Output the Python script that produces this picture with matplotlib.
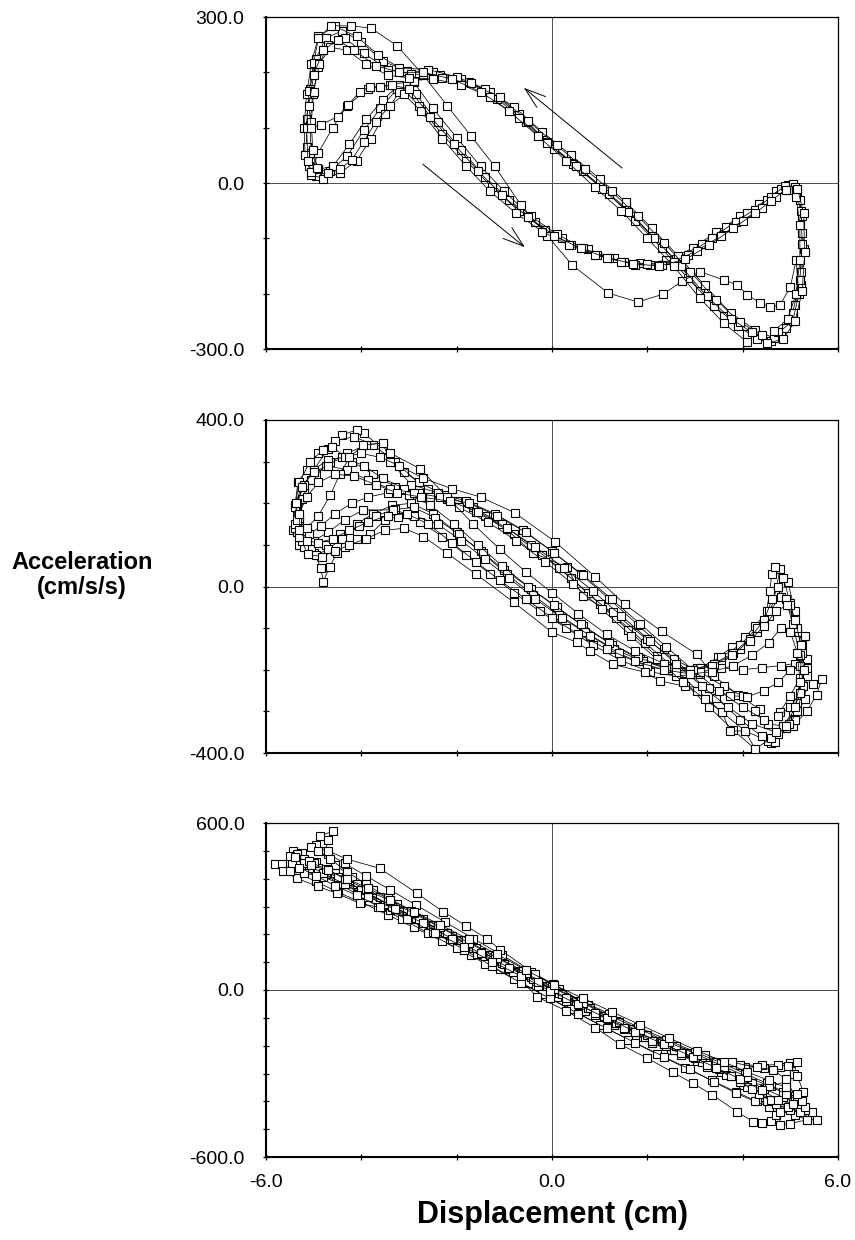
import matplotlib.pyplot as plt
import numpy as np

plt.rcParams["font.family"] = ["Liberation Sans", "DejaVu Sans"]
plt.rcParams["axes.unicode_minus"] = False

# ---------------- panel 1 (+-300) : one list of (disp, acc) per cycle ----------------
P1_C1 = [(4.50, -288), (4.10, -272), (3.60, -240), (3.10, -195), (2.60, -140), (2.10, -95), (1.55, -45),
         (1.00, -5), (0.45, 35), (-0.10, 75), (-0.70, 125), (-1.30, 165), (-1.90, 188), (-2.50, 200),
         (-3.05, 203), (-3.55, 220), (-4.00, 255), (-4.40, 275), (-4.75, 262), (-4.95, 225), (-5.08, 170),
         (-5.15, 115), (-5.15, 65), (-5.10, 30), (-4.95, 12), (-4.65, 22), (-4.30, 48), (-3.95, 95),
         (-3.60, 135), (-3.25, 170), (-2.85, 160), (-2.40, 110), (-1.90, 60), (-1.40, 10), (-0.90, -30),
         (-0.35, -70), (0.20, -100), (0.75, -120), (1.30, -135), (1.85, -145), (2.40, -140), (2.95, -118),
         (3.45, -88), (3.95, -60), (4.35, -38), (4.70, -15), (4.95, -4), (5.15, -15), (5.25, -60),
         (5.28, -120), (5.22, -185), (5.05, -240), (4.80, -275)]
P1_C2 = [(4.30, -282), (3.90, -258), (3.40, -222), (2.85, -172), (2.30, -118), (1.75, -68), (1.20, -20),
         (0.65, 22), (0.05, 62), (-0.55, 110), (-1.15, 152), (-1.75, 182), (-2.35, 195), (-2.95, 197),
         (-3.45, 205), (-3.95, 235), (-4.35, 262), (-4.70, 250), (-4.90, 210), (-5.02, 160), (-5.08, 105),
         (-5.05, 55), (-4.90, 25), (-4.60, 30), (-4.25, 70), (-3.90, 115), (-3.55, 150), (-3.20, 178),
         (-2.80, 140), (-2.30, 88), (-1.80, 40), (-1.25, -8), (-0.70, -50), (-0.15, -85), (0.40, -112),
         (0.95, -130), (1.50, -142), (2.05, -148), (2.60, -138), (3.15, -110), (3.65, -80), (4.10, -55),
         (4.50, -30), (4.80, -10), (5.05, -2), (5.20, -30), (5.25, -90), (5.22, -160), (5.10, -220),
         (4.90, -262), (4.60, -285)]
P1_C3 = [(4.65, -280), (4.25, -265), (3.75, -235), (3.20, -185), (2.65, -132), (2.10, -82), (1.55, -35),
         (1.00, 8), (0.40, 50), (-0.20, 92), (-0.80, 138), (-1.40, 170), (-2.00, 192), (-2.60, 205),
         (-3.20, 208), (-3.65, 232), (-4.10, 265), (-4.55, 283), (-4.90, 265), (-5.05, 215), (-5.15, 160),
         (-5.20, 100), (-5.18, 50), (-5.05, 15), (-4.80, 8), (-4.45, 18), (-4.10, 40), (-3.80, 80),
         (-3.50, 125), (-3.20, 165), (-2.90, 182), (-2.50, 135), (-2.00, 82), (-1.50, 30), (-1.00, -15),
         (-0.45, -60), (0.10, -92), (0.65, -118), (1.20, -135), (1.75, -148), (2.30, -148), (2.85, -130),
         (3.35, -100), (3.85, -70), (4.25, -48), (4.60, -25), (4.88, -5), (5.10, -8), (5.22, -50),
         (5.25, -110), (5.20, -175), (5.05, -235)]
P1_C4 = [(4.40, -275), (3.95, -252), (3.45, -212), (2.90, -160), (2.35, -108), (1.80, -60), (1.25, -15),
         (0.70, 25), (0.10, 68), (-0.50, 112), (-1.10, 155), (-1.70, 180), (-2.30, 190), (-2.90, 185),
         (-3.40, 177), (-3.85, 170), (-4.30, 140), (-4.60, 100), (-4.90, 55), (-5.05, 20), (-5.12, 40),
         (-5.15, 100), (-5.10, 166), (-5.00, 217), (-4.90, 262), (-4.64, 284), (-4.22, 284), (-3.80, 280),
         (-3.25, 248), (-2.70, 195), (-2.20, 140), (-1.70, 85), (-1.20, 30), (-0.65, -40), (-0.10, -95),
         (0.42, -148), (1.18, -199), (1.80, -215), (2.33, -201), (2.72, -178), (3.10, -160), (3.60, -175),
         (3.88, -184), (4.10, -202), (4.37, -217), (4.57, -224), (4.78, -221), (5.00, -188), (5.12, -140),
         (5.18, -200), (5.05, -250), (4.75, -270)]
P1_C5 = [(4.20, -270), (3.75, -245), (3.25, -205), (2.70, -150), (2.15, -100), (1.60, -52), (1.05, -10),
         (0.50, 30), (-0.10, 72), (-0.70, 118), (-1.30, 155), (-1.90, 178), (-2.50, 188), (-3.00, 190),
         (-3.45, 195), (-3.90, 215), (-4.30, 240), (-4.65, 245), (-4.88, 215), (-5.00, 165), (-5.05, 110),
         (-5.02, 60), (-4.92, 28), (-4.70, 18), (-4.45, 25), (-4.20, 42), (-3.95, 75), (-3.70, 110),
         (-3.40, 140), (-3.10, 160), (-2.75, 130), (-2.30, 80), (-1.80, 30), (-1.30, -15), (-0.75, -55),
         (-0.20, -88), (0.35, -112), (0.90, -130), (1.45, -142), (2.00, -146), (2.55, -142), (3.05, -122),
         (3.55, -95), (4.00, -68), (4.40, -45), (4.70, -25), (4.95, -12), (5.12, -25), (5.20, -75),
         (5.20, -140), (5.12, -200), (4.95, -245), (4.65, -268)]
P1_C6 = [(4.10, -288), (3.60, -253), (3.10, -208), (2.55, -150), (2.00, -100), (1.45, -50), (0.90, -8),
         (0.30, 40), (-0.30, 85), (-0.90, 130), (-1.50, 165), (-2.10, 188), (-2.70, 200), (-3.20, 200),
         (-3.70, 212), (-4.15, 240), (-4.50, 258), (-4.80, 240), (-5.00, 195), (-5.10, 140), (-5.05, 100),
         (-4.85, 105), (-4.50, 120), (-4.28, 141), (-4.03, 165), (-3.82, 174), (-3.60, 174), (-3.36, 177),
         (-3.00, 170), (-2.55, 120), (-2.05, 70), (-1.55, 22), (-1.05, -22), (-0.50, -62), (0.05, -95),
         (0.60, -118), (1.15, -135), (1.70, -146), (2.25, -150), (2.80, -138), (3.30, -112), (3.80, -82),
         (4.25, -55), (4.60, -32), (4.90, -12), (5.15, -10), (5.28, -55), (5.30, -125), (5.25, -195),
         (5.10, -250), (4.85, -282), (4.50, -290)]

# ---------------- panel 2 (+-400) ----------------
P2_C1 = [(4.26, -390), (3.80, -345), (3.30, -290), (2.75, -228), (2.20, -168), (1.60, -105), (1.00, -42),
         (0.40, 20), (-0.20, 75), (-0.80, 125), (-1.40, 170), (-2.00, 205), (-2.60, 235), (-3.10, 275),
         (-3.55, 330), (-3.95, 369), (-4.10, 376), (-4.41, 364), (-4.70, 330), (-5.00, 280), (-5.20, 220),
         (-5.30, 160), (-5.20, 110), (-5.00, 80), (-4.85, 45), (-4.80, 12), (-4.66, 48), (-4.51, 81),
         (-4.34, 96), (-4.09, 113), (-3.82, 125), (-3.50, 160), (-3.23, 168), (-2.77, 156), (-2.30, 120),
         (-1.80, 75), (-1.30, 30), (-0.80, -15), (-0.25, -60), (0.30, -100), (0.85, -140), (1.45, -178),
         (2.05, -205), (2.60, -215), (3.10, -210), (3.55, -185), (3.95, -150), (4.30, -110), (4.55, -70),
         (4.68, -20), (4.78, 41), (4.95, 10), (5.10, -60), (5.25, -140), (5.30, -210), (5.15, -280),
         (4.90, -340), (4.60, -375)]
P2_C2 = [(4.53, -371), (4.05, -347), (3.57, -302), (3.05, -250), (2.50, -190), (1.95, -135), (1.35, -75),
         (0.75, -15), (0.15, 45), (-0.45, 100), (-1.05, 150), (-1.65, 190), (-2.25, 220), (-2.80, 250),
         (-3.30, 300), (-3.75, 340), (-4.15, 360), (-4.55, 350), (-4.90, 320), (-5.15, 280), (-5.33, 251),
         (-5.39, 196), (-5.43, 136), (-5.30, 100), (-5.05, 90), (-4.75, 100), (-4.45, 125), (-4.10, 150),
         (-3.75, 175), (-3.35, 195), (-2.95, 200), (-2.50, 175), (-2.00, 130), (-1.50, 85), (-1.00, 40),
         (-0.45, -5), (0.10, -50), (0.65, -95), (1.25, -140), (1.85, -175), (2.45, -200), (3.00, -205),
         (3.48, -170), (3.78, -146), (4.05, -122), (4.26, -96), (4.50, -60), (4.57, -10), (4.61, 29),
         (4.68, 48), (4.85, 20), (5.00, -40), (5.15, -110), (5.31, -120), (5.35, -175), (5.27, -240),
         (5.05, -300), (4.85, -335), (4.68, -374)]
P2_C3 = [(4.40, -360), (3.95, -320), (3.45, -268), (2.90, -210), (2.35, -150), (1.80, -92), (1.20, -30),
         (0.60, 30), (0.00, 85), (-0.60, 135), (-1.20, 175), (-1.80, 205), (-2.40, 225), (-2.95, 245),
         (-3.40, 300), (-3.55, 345), (-3.90, 340), (-4.30, 320), (-4.65, 300), (-4.95, 270), (-5.20, 230),
         (-5.35, 180), (-5.35, 130), (-5.20, 95), (-4.95, 75), (-4.70, 90), (-4.40, 115), (-4.05, 145),
         (-3.70, 170), (-3.30, 185), (-2.90, 190), (-2.45, 165), (-1.95, 125), (-1.45, 80), (-0.95, 30),
         (-0.40, -20), (0.15, -68), (0.70, -110), (1.30, -150), (1.90, -180), (2.50, -195), (3.05, -195),
         (3.55, -195), (4.00, -200), (4.40, -195), (4.80, -190), (5.10, -185), (5.35, -195), (5.48, -235),
         (5.66, -223), (5.55, -260), (5.35, -300), (5.05, -335), (4.75, -355)]
P2_C4 = [(4.36, -295), (3.90, -260), (3.40, -215), (3.04, -163), (2.30, -108), (1.53, -43), (0.90, 24),
         (0.06, 108), (-0.78, 177), (-1.50, 215), (-2.10, 235), (-2.70, 260), (-3.20, 290), (-3.60, 310),
         (-4.00, 320), (-4.40, 310), (-4.75, 290), (-5.05, 255), (-5.25, 210), (-5.30, 165), (-5.20, 125),
         (-5.00, 110), (-4.70, 130), (-4.35, 160), (-3.96, 184), (-3.33, 184), (-2.90, 170), (-2.40, 150),
         (-1.90, 110), (-1.40, 65), (-0.90, 20), (-0.35, -30), (0.20, -75), (0.80, -118), (1.40, -160),
         (2.00, -192), (2.60, -205), (3.10, -195), (3.55, -170), (3.95, -140), (4.30, -100), (4.55, -60),
         (4.80, -25), (5.00, -45), (5.15, -100), (5.25, -160), (5.20, -220), (5.00, -262), (4.78, -302)]
P2_C5 = [(4.00, -263), (3.60, -240), (3.10, -205), (2.55, -175), (1.99, -127), (1.28, -62), (0.65, -24),
         (0.31, 46), (-0.40, 81), (-0.95, 137), (-1.60, 180), (-2.20, 210), (-2.80, 225), (-3.30, 240),
         (-3.75, 270), (-4.20, 300), (-4.62, 336), (-4.80, 328), (-5.08, 300), (-5.30, 250), (-5.40, 190),
         (-5.40, 140), (-5.25, 110), (-5.12, 77), (-4.83, 72), (-4.55, 85), (-4.25, 100), (-3.90, 115),
         (-3.50, 135), (-3.10, 140), (-2.70, 120), (-2.20, 80), (-1.60, 30), (-0.80, -38), (0.00, -110),
         (0.52, -134), (0.80, -155), (1.28, -187), (1.95, -206), (2.27, -227), (2.80, -240), (3.30, -245),
         (3.73, -262), (4.10, -265), (4.45, -250), (4.75, -230), (5.00, -200), (5.20, -190), (5.35, -215),
         (5.30, -270), (5.10, -320), (4.85, -335), (4.53, -330), (4.25, -300)]
P2_C6 = [(4.85, -335), (4.60, -365), (4.26, -390), (4.05, -347), (3.73, -347), (3.57, -302), (3.20, -270),
         (2.75, -230), (2.20, -175), (1.65, -118), (1.05, -55), (0.45, 5), (-0.15, 60), (-0.75, 110),
         (-1.35, 155), (-1.95, 190), (-2.55, 215), (-3.10, 235), (-3.55, 260), (-3.95, 290), (-4.35, 310),
         (-4.70, 305), (-5.00, 280), (-5.20, 245), (-5.35, 200), (-5.40, 150), (-5.30, 120), (-5.10, 125),
         (-4.85, 145), (-4.55, 175), (-4.20, 200), (-3.85, 215), (-3.45, 225), (-3.00, 220), (-2.55, 195),
         (-2.05, 150), (-1.55, 100), (-1.05, 50), (-0.50, 0), (0.05, -45), (0.60, -90), (1.20, -135),
         (1.80, -170), (2.40, -195), (2.95, -200), (3.40, -185), (3.80, -160), (4.15, -125), (4.45, -80),
         (4.62, -30), (4.75, 0), (4.90, -30), (5.05, -90), (5.20, -165), (5.27, -240), (5.15, -300),
         (4.98, -330)]
P2_C7 = [(4.45, -320), (4.00, -290), (3.50, -250), (2.95, -200), (2.40, -145), (1.85, -90), (1.25, -30),
         (0.65, 28), (0.05, 80), (-0.55, 130), (-1.15, 170), (-1.75, 200), (-2.35, 215), (-2.90, 225),
         (-3.40, 235), (-3.85, 255), (-4.30, 280), (-4.70, 290), (-5.00, 275), (-5.25, 240), (-5.38, 200),
         (-5.35, 160), (-5.15, 140), (-4.90, 170), (-4.65, 220), (-4.45, 270), (-4.25, 310), (-3.96, 340),
         (-3.55, 345), (-3.40, 321), (-2.77, 283), (-2.20, 215), (-1.65, 150), (-1.10, 90), (-0.55, 35),
         (0.00, -15), (0.55, -65), (1.15, -115), (1.75, -155), (2.35, -185), (2.90, -200), (3.35, -190),
         (3.78, -165), (4.15, -130), (4.45, -95), (4.70, -60), (4.92, -45), (5.10, -80), (5.22, -140),
         (5.28, -200), (5.20, -255), (5.00, -290), (4.75, -310)]
P2_C8 = [(4.70, -350), (4.20, -330), (3.70, -290), (3.15, -240), (2.60, -185), (2.05, -130), (1.45, -70),
         (0.85, -10), (0.25, 45), (-0.35, 95), (-0.95, 140), (-1.55, 180), (-2.15, 205), (-2.75, 215),
         (-3.25, 225), (-3.70, 245), (-4.15, 265), (-4.55, 270), (-4.90, 250), (-5.15, 215), (-5.30, 175),
         (-5.30, 135), (-5.15, 110), (-4.90, 105), (-4.60, 115), (-4.25, 135), (-3.85, 155), (-3.45, 170),
         (-3.05, 175), (-2.60, 150), (-2.10, 105), (-1.60, 60), (-1.10, 15), (-0.55, -30), (0.00, -75),
         (0.55, -115), (1.15, -150), (1.75, -180), (2.35, -200), (2.90, -210), (3.35, -205), (3.80, -190),
         (4.20, -165), (4.55, -135), (4.80, -100), (5.00, -110), (5.15, -160), (5.20, -230), (5.10, -290),
         (4.90, -335)]

# ---------------- panel 3 (+-600) ----------------
P3_C1 = [(-5.81, 452), (-5.66, 452), (-5.35, 420), (-4.95, 390), (-4.50, 352), (-4.00, 315), (-3.45, 270),
         (-2.90, 225), (-2.30, 175), (-1.70, 125), (-1.10, 75), (-0.50, 25), (0.10, -25), (0.70, -75),
         (1.30, -125), (1.90, -170), (2.50, -215), (3.05, -255), (3.55, -295), (4.00, -340), (4.40, -385),
         (4.80, -425), (5.10, -450), (5.35, -466), (5.56, -466), (5.45, -440), (5.20, -410), (4.85, -385),
         (4.45, -355), (4.00, -320), (3.50, -280), (2.95, -238), (2.35, -195), (1.75, -150), (1.15, -105),
         (0.55, -55), (-0.05, -5), (-0.65, 50), (-1.25, 105), (-1.85, 160), (-2.45, 215), (-3.00, 265),
         (-3.50, 310), (-3.95, 350), (-4.35, 385), (-4.75, 415), (-5.10, 440), (-5.45, 455)]
P3_C2 = [(-4.60, 571), (-4.87, 553), (-4.95, 520), (-4.70, 490), (-4.35, 455), (-3.90, 410), (-3.40, 360),
         (-2.85, 305), (-2.25, 245), (-1.65, 185), (-1.05, 125), (-0.45, 65), (0.15, 5), (0.75, -55),
         (1.35, -110), (1.95, -160), (2.55, -205), (3.10, -240), (3.60, -262), (4.05, -275), (4.45, -280),
         (4.78, -275), (5.00, -262), (5.14, -257), (5.08, -300), (4.90, -330), (4.60, -345), (4.20, -335),
         (3.75, -310), (3.25, -275), (2.70, -235), (2.10, -190), (1.50, -140), (0.90, -90), (0.30, -40),
         (-0.30, 15), (-0.90, 75), (-1.50, 135), (-2.10, 195), (-2.70, 255), (-3.25, 310), (-3.75, 360),
         (-4.20, 405), (-4.55, 450), (-4.75, 500), (-4.70, 540)]
P3_C3 = [(-5.43, 499), (-5.25, 492), (-4.95, 460), (-4.55, 420), (-4.10, 380), (-3.60, 335), (-3.05, 285),
         (-2.50, 235), (-1.90, 180), (-1.30, 125), (-0.70, 70), (-0.10, 15), (0.50, -40), (1.10, -92),
         (1.70, -140), (2.30, -185), (2.90, -225), (3.45, -258), (3.95, -270), (4.40, -270), (4.75, -268),
         (4.95, -274), (5.15, -310), (5.27, -365), (5.20, -400), (5.00, -420), (4.70, -420), (4.30, -400),
         (3.85, -365), (3.35, -325), (2.80, -280), (2.20, -230), (1.60, -178), (1.00, -125), (0.40, -70),
         (-0.20, -15), (-0.80, 40), (-1.40, 95), (-2.00, 150), (-2.60, 205), (-3.15, 255), (-3.65, 300),
         (-4.10, 345), (-4.50, 385), (-4.85, 425), (-5.15, 465), (-5.35, 490)]
P3_C4 = [(-5.64, 426), (-5.35, 401), (-4.91, 372), (-4.51, 347), (-4.03, 311), (-3.40, 289), (-2.50, 210),
         (-1.57, 130), (-0.82, 65), (-0.31, -25), (0.30, -75), (0.90, -135), (1.43, -195), (2.00, -245),
         (2.54, -296), (2.95, -335), (3.36, -376), (3.88, -437), (4.22, -473), (4.41, -477), (4.60, -470),
         (4.70, -450), (4.55, -420), (4.25, -400), (3.85, -370), (3.40, -330), (2.90, -285), (2.35, -240),
         (1.75, -190), (1.15, -138), (0.55, -85), (-0.05, -30), (-0.65, 25), (-1.25, 85), (-1.85, 145),
         (-2.45, 205), (-3.00, 258), (-3.50, 305), (-3.95, 345), (-4.40, 380), (-4.80, 405), (-5.20, 420),
         (-5.50, 428)]
P3_C5 = [(-5.20, 470), (-4.90, 440), (-4.50, 405), (-4.00, 360), (-3.45, 310), (-2.85, 258), (-2.25, 205),
         (-1.65, 152), (-1.05, 98), (-0.45, 45), (0.15, -10), (0.75, -65), (1.35, -118), (1.95, -168),
         (2.55, -215), (3.15, -260), (3.65, -305), (4.10, -350), (4.50, -400), (4.78, -440), (4.78, -484),
         (5.00, -480), (5.35, -466), (5.30, -430), (5.10, -380), (4.90, -320), (4.64, -286), (4.30, -278),
         (3.78, -260), (3.20, -235), (2.60, -200), (2.00, -160), (1.40, -115), (0.80, -65), (0.20, -15),
         (-0.40, 40), (-1.00, 95), (-1.60, 150), (-2.20, 205), (-2.80, 255), (-3.35, 300), (-3.85, 345),
         (-4.30, 390), (-4.70, 430), (-5.00, 458)]
P3_C6 = [(-5.05, 515), (-4.70, 500), (-4.30, 470), (-3.61, 437), (-2.83, 347), (-2.29, 282), (-1.80, 230),
         (-1.36, 184), (-1.09, 145), (-0.36, 58), (0.02, 22), (0.60, -40), (1.20, -100), (1.80, -150),
         (2.40, -200), (3.00, -245), (3.50, -285), (3.95, -330), (4.35, -375), (4.70, -410), (5.00, -430),
         (5.20, -420), (5.10, -390), (4.85, -365), (4.50, -335), (4.05, -300), (3.55, -262), (3.00, -222),
         (2.40, -178), (1.80, -132), (1.20, -85), (0.60, -38), (0.00, 12), (-0.60, 68), (-1.20, 122),
         (-1.80, 178), (-2.40, 232), (-2.95, 285), (-3.45, 332), (-3.90, 380), (-4.30, 425), (-4.65, 470),
         (-4.90, 500)]
P3_C7 = [(-5.50, 480), (-5.20, 455), (-4.80, 420), (-4.35, 380), (-3.85, 335), (-3.30, 290), (-2.70, 240),
         (-2.10, 185), (-1.50, 132), (-0.90, 80), (-0.30, 28), (0.30, -28), (0.90, -82), (1.50, -135),
         (2.10, -182), (2.70, -228), (3.25, -270), (3.75, -310), (4.20, -355), (4.60, -395), (4.95, -420),
         (5.20, -440), (5.30, -420), (5.15, -395), (4.90, -372), (4.55, -345), (4.10, -312), (3.60, -275),
         (3.05, -232), (2.45, -188), (1.85, -142), (1.25, -95), (0.65, -45), (0.05, 5), (-0.55, 60),
         (-1.15, 115), (-1.75, 170), (-2.35, 225), (-2.90, 275), (-3.40, 320), (-3.90, 362), (-4.35, 400),
         (-4.75, 435), (-5.10, 462), (-5.40, 478)]
P3_C8 = [(-5.30, 440), (-4.95, 410), (-4.55, 375), (-4.10, 340), (-3.60, 300), (-3.05, 255), (-2.45, 205),
         (-1.85, 155), (-1.25, 102), (-0.65, 50), (-0.05, -2), (0.55, -52), (1.15, -102), (1.75, -150),
         (2.35, -195), (2.95, -240), (3.45, -280), (3.95, -320), (4.40, -360), (4.75, -395), (5.05, -410),
         (5.25, -400), (5.15, -375), (4.90, -350), (4.55, -325), (4.10, -295), (3.60, -258), (3.05, -218),
         (2.45, -172), (1.85, -125), (1.25, -78), (0.65, -30), (0.05, 18), (-0.55, 72), (-1.15, 128),
         (-1.75, 182), (-2.35, 235), (-2.90, 282), (-3.40, 325), (-3.85, 365), (-4.30, 400), (-4.70, 430),
         (-5.05, 448)]

P1_CYCLES = [P1_C1, P1_C2, P1_C3, P1_C4, P1_C5, P1_C6]
P2_CYCLES = [P2_C1, P2_C2, P2_C3, P2_C4, P2_C5, P2_C6, P2_C7, P2_C8]
P3_CYCLES = [P3_C1, P3_C2, P3_C3, P3_C4, P3_C5, P3_C6, P3_C7, P3_C8]
LIMITS = [300.0, 400.0, 600.0]
X_LABELS = ["-6.0", "0.0", "6.0"]

# direction arrows in the top panel (tail, head)
ARROW_UP = ((1.47, 27), (-0.59, 172))
ARROW_DOWN = ((-2.71, 34), (-0.57, -116))

W, H = 855, 1240
fig = plt.figure(figsize=(W / 100, H / 100), dpi=100)

left, right = 266 / W, 838 / W
boxes = [(17, 349), (420, 753), (823, 1157)]  # top, bottom in pixels

axes = []
for (top, bot), cycles, lim in zip(boxes, [P1_CYCLES, P2_CYCLES, P3_CYCLES], LIMITS):
    ax = fig.add_axes([left, 1 - bot / H, right - left, (bot - top) / H])
    axes.append(ax)
    ax.axhline(0, color="0.3", lw=0.7, zorder=1)
    ax.axvline(0, color="0.3", lw=0.7, zorder=1)
    for cyc in cycles:
        xy = np.array(cyc, dtype=float)
        ax.plot(xy[:, 0], xy[:, 1], color="black", lw=0.55, marker="s", ms=6.0,
                mfc="white", mec="black", mew=0.8, zorder=3)

    ax.set_xlim(-6, 6)
    ax.set_ylim(-lim, lim)
    ax.set_yticks([-lim, 0, lim])
    ax.set_yticklabels([f"{v:.1f}" for v in (-lim, 0.0, lim)])
    ax.set_yticks(np.arange(-lim, lim + 1, 100), minor=True)
    ax.set_xticks([-6, 0, 6])
    ax.set_xticklabels(X_LABELS)
    ax.set_xticks([-4, -2, 2, 4], minor=True)
    ax.tick_params(which="both", direction="inout", length=5, width=0.9, color="black")
    ax.tick_params(axis="y", labelsize=14, pad=13)
    ax.tick_params(axis="x", labelsize=14, pad=10)
    for side in ("left", "bottom"):
        ax.spines[side].set_linewidth(1.5)
    for side in ("top", "right"):
        ax.spines[side].set_linewidth(0.9)

axes[0].tick_params(axis="x", labelbottom=False)
axes[1].tick_params(axis="x", labelbottom=False)

for tail, head in (ARROW_UP, ARROW_DOWN):
    axes[0].annotate("", xy=head, xytext=tail,
                     arrowprops=dict(arrowstyle="->,head_length=0.6,head_width=0.2",
                                     lw=0.7, color="black", mutation_scale=25,
                                     shrinkA=0, shrinkB=0), zorder=2)

fig.text(82 / W, 1 - 575 / H, "Acceleration\n(cm/s/s)", ha="center", va="center",
         fontsize=17, fontweight="bold", linespacing=1.1)
fig.text(552 / W, 1 - 1215 / H, "Displacement (cm)", ha="center", va="center",
         fontsize=22, fontweight="bold")

fig.savefig("out.png", dpi=100)
